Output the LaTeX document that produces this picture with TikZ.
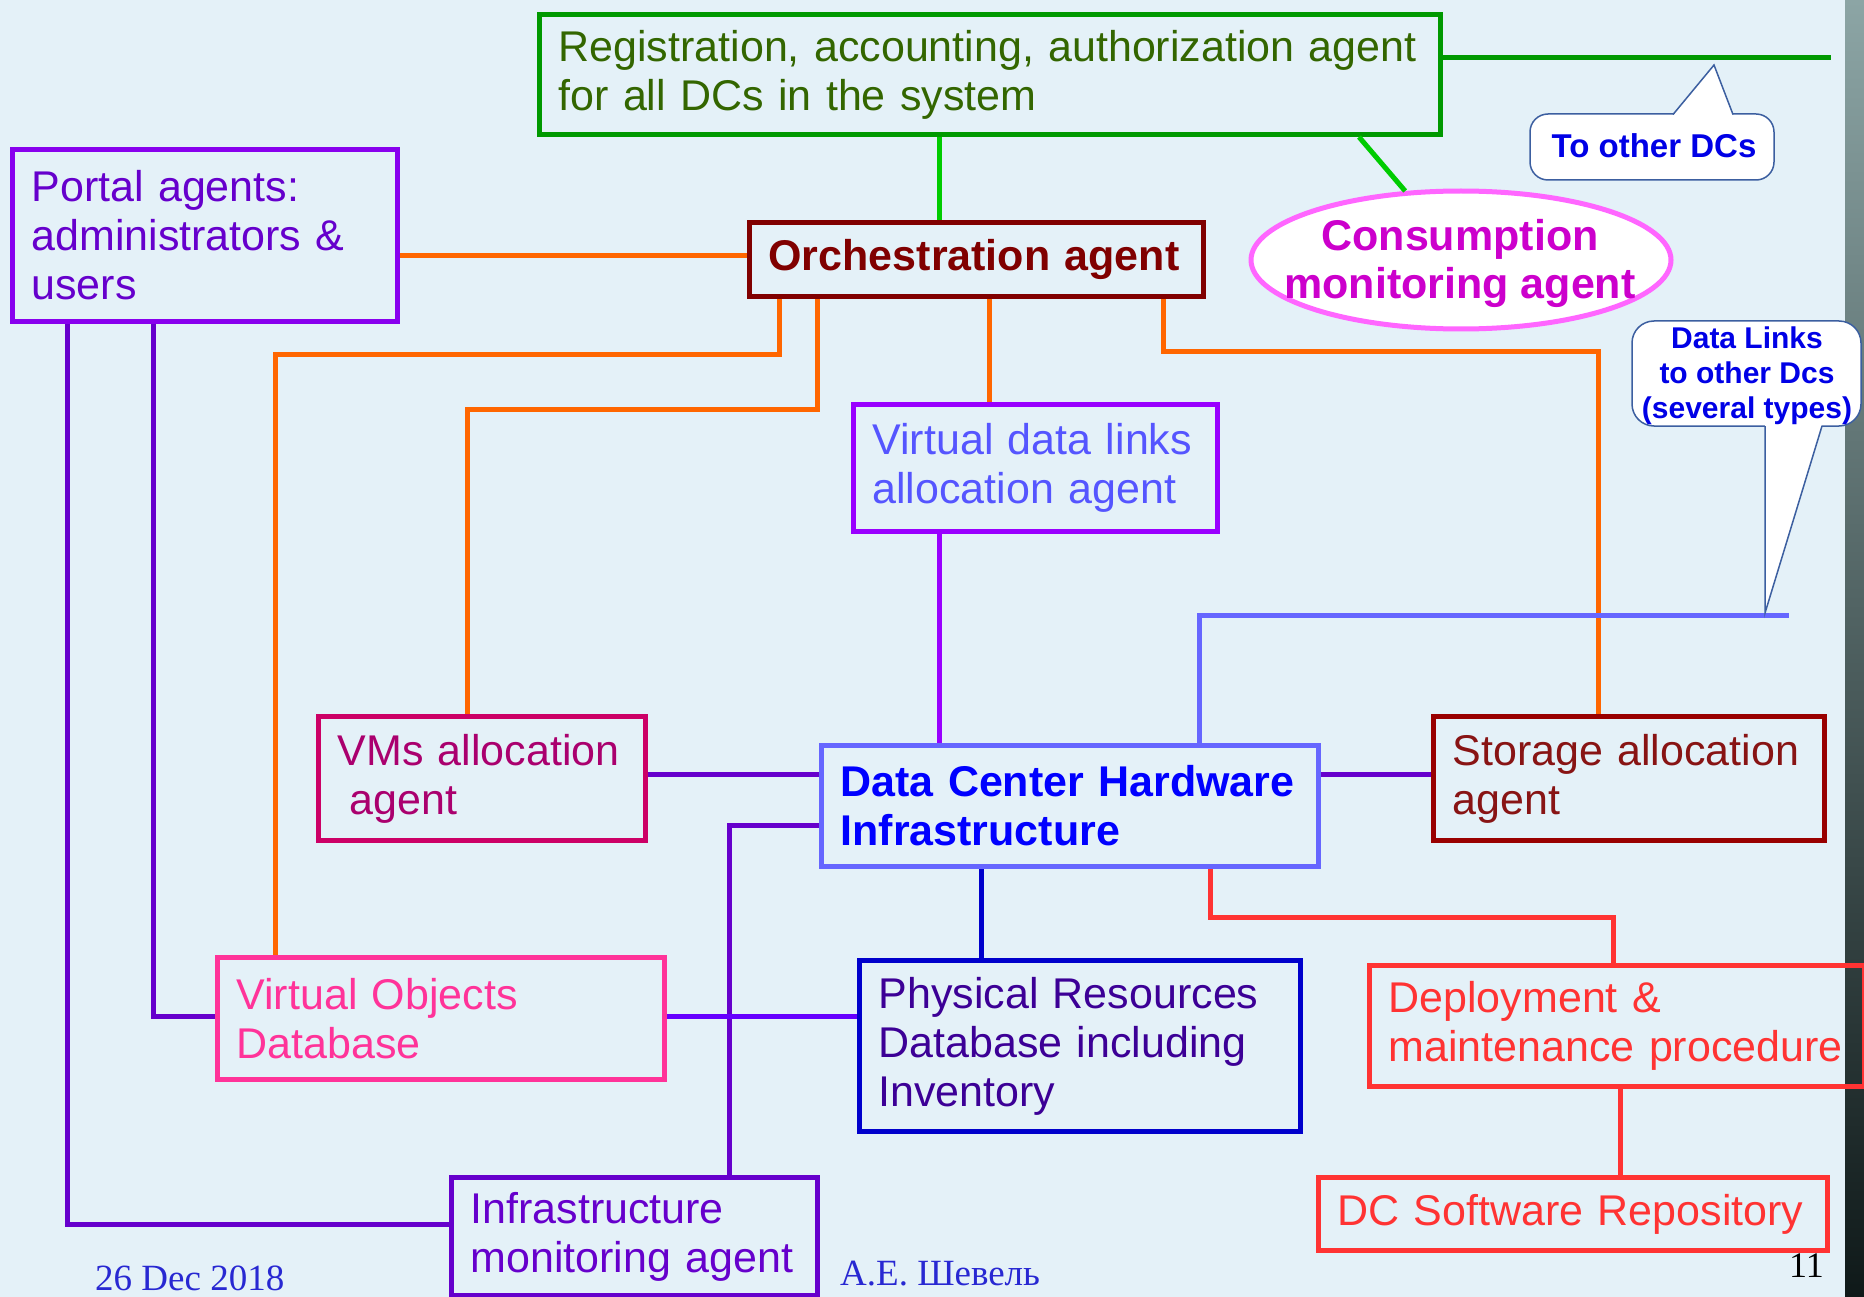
\documentclass[tikz,border=0pt]{standalone}
\usepackage{fontspec}
\setmainfont{Liberation Sans}
\newfontfamily\footerfont{Liberation Serif}
\usetikzlibrary{shapes.geometric}

\definecolor{bgblue}{RGB}{228,241,248}
\definecolor{regline}{RGB}{0,153,0}
\definecolor{regtext}{RGB}{51,102,0}
\definecolor{greenlink}{RGB}{0,204,0}
\definecolor{orchred}{RGB}{128,0,0}
\definecolor{orangelink}{RGB}{255,102,0}
\definecolor{portalline}{RGB}{136,0,238}
\definecolor{portaltext}{RGB}{102,0,204}
\definecolor{violetlink}{RGB}{102,0,204}
\definecolor{violetbright}{RGB}{102,0,255}
\definecolor{vdlline}{RGB}{153,0,255}
\definecolor{vdltext}{RGB}{85,85,255}
\definecolor{hwline}{RGB}{102,102,255}
\definecolor{hwtext}{RGB}{0,0,255}
\definecolor{vmline}{RGB}{204,0,102}
\definecolor{vmtext}{RGB}{170,0,110}
\definecolor{storline}{RGB}{153,0,0}
\definecolor{stortext}{RGB}{136,20,20}
\definecolor{vodbcol}{RGB}{255,51,153}
\definecolor{physline}{RGB}{0,0,204}
\definecolor{phystext}{RGB}{60,0,150}
\definecolor{deploycol}{RGB}{255,51,51}
\definecolor{consline}{RGB}{255,102,255}
\definecolor{constext}{RGB}{204,0,204}
\definecolor{bubbleline}{RGB}{60,95,160}
\definecolor{bubbletext}{RGB}{0,0,230}
\definecolor{footblue}{RGB}{40,40,210}
\definecolor{edgetop}{RGB}{140,165,165}
\definecolor{edgemid}{RGB}{70,100,100}
\definecolor{edgebot}{RGB}{15,25,25}

\begin{document}
\begin{tikzpicture}[x=1pt,y=-1pt,
  box/.style={draw, line width=5pt, anchor=north west, inner xsep=19pt,
    inner ysep=2pt, align=left, font=\fontsize{43}{49}\selectfont},
  boldbox/.style={box, font=\bfseries\fontsize{43}{49}\selectfont},
  conn/.style={line width=5pt},
  bubble/.style={draw=bubbleline, line width=1.5pt, fill=white},
  bubbletxt/.style={text=bubbletext, inner sep=0pt, align=center},
  foot/.style={inner sep=0pt, anchor=base west, text=footblue,
    font=\footerfont\fontsize{37}{44}\selectfont}]

\useasboundingbox (0,0) rectangle (1864,1297);
\fill[bgblue] (0,0) rectangle (1864,1297);
% slide edge strip
\shade[top color=edgetop, middle color=edgemid, bottom color=edgebot]
  (1845,0) rectangle (1864,1297);

% ---- boxes ----
\node[box, draw=regline, text=regtext, text width=863pt, minimum height=120pt]
  (reg) at (537,12)
  {\mbox{Registration, accounting, authorization agent}\\for all DCs in the system};
\node[boldbox, draw=orchred, text=orchred, text width=416pt, minimum height=74pt]
  (orch) at (747,220) {\mbox{Orchestration agent}};
\node[box, draw=portalline, text=portaltext, text width=347pt, minimum height=172pt]
  (portal) at (10,147) {Portal agents:\\administrators \&\\users};
\node[box, draw=vdlline, text=vdltext, text width=326pt, minimum height=127pt]
  (vdl) at (851,402) {\mbox{Virtual data links}\\allocation agent};
\node[box, draw=vmline, text=vmtext, text width=289pt, minimum height=124pt]
  (vms) at (316,714) {\mbox{VMs allocation}\\\hspace*{0.28em}agent};
\node[boldbox, draw=hwline, text=hwtext, text width=459pt, minimum height=121pt]
  (dchi) at (819,743) {\mbox{Data Center Hardware}\\Infrastructure};
\node[box, draw=storline, text=stortext, text width=353pt, minimum height=124pt]
  (storage) at (1431,714) {\mbox{Storage allocation}\\agent};
\node[box, draw=vodbcol, text=vodbcol, text width=409pt, minimum height=122pt]
  (vodb) at (215,955) {Virtual Objects\\Database};
\node[box, draw=physline, text=phystext, text width=403pt, minimum height=171pt]
  (phys) at (857,958) {\mbox{Physical Resources}\\\mbox{Database including}\\Inventory};
\node[box, draw=deploycol, text=deploycol, text width=457pt, minimum height=121pt]
  (deploy) at (1367,963) {Deployment \&\\\mbox{maintenance procedure}};
\node[box, draw=deploycol, text=deploycol, text width=471pt, minimum height=73pt]
  (dcsw) at (1316,1175) {\mbox{DC Software Repository}};
\node[box, draw=violetlink, text=violetlink, text width=328pt, minimum height=118pt]
  (infra) at (449,1175) {Infrastructure\\\mbox{monitoring agent}};

% ---- consumption monitoring ellipse ----
\node[ellipse, draw=consline, fill=white, line width=5pt, minimum width=420pt,
  minimum height=138pt, inner sep=0pt] (cons) at (1461,260) {};
\node[text=constext, inner sep=0pt, align=center,
  font=\bfseries\fontsize{43}{48}\selectfont] (consT) at (1460,263)
  {Consumption\\monitoring agent};

% ---- free ends ----
\coordinate (farDC) at (1831,58);
\coordinate (linkEnd) at (1789,615);

% ---- connectors ----
\draw[conn, greenlink] (reg.south -| 939,0) -- (orch.north -| 939,0);
\draw[conn, greenlink] (reg.south -| 1359,0) -- (cons.129);
\draw[conn, regline] (reg.north east |- 0,58) -- (farDC);

\draw[conn, orangelink] (portal.east |- 0,256) -- (orch.west |- 0,256);
\draw[conn, orangelink] (orch.south -| 779,0) -- (779,355) -- (275,355) -- (vodb.north -| 275,0);
\draw[conn, orangelink] (orch.south -| 817,0) -- (817,409) -- (467,409) -- (vms.north -| 467,0);
\draw[conn, orangelink] (orch.south -| 989,0) -- (vdl.north -| 989,0);
\draw[conn, orangelink] (orch.south -| 1163,0) -- (1163,352) -- (1598,352) -- (storage.north -| 1598,0);

\draw[conn, vdlline] (vdl.south -| 939,0) -- (dchi.north -| 939,0);
\draw[conn, violetlink] (vms.east |- 0,774) -- (dchi.west |- 0,774);
\draw[conn, violetlink] (dchi.east |- 0,774) -- (storage.west |- 0,774);
\draw[conn, violetlink] (dchi.west |- 0,825) -- (729,825) -- (infra.north -| 729,0);
\draw[conn, violetbright] (vodb.east |- 0,1016) -- (phys.west |- 0,1016);
\draw[conn, violetlink] (portal.south -| 153,0) -- (153,1016) -- (vodb.west |- 0,1016);
\draw[conn, violetlink] (portal.south -| 67,0) -- (67,1224) -- (infra.west |- 0,1224);

\draw[conn, physline] (dchi.south -| 981,0) -- (phys.north -| 981,0);
\draw[conn, hwline] (dchi.north -| 1199,0) -- (1199,615) -- (linkEnd);

\draw[conn, deploycol] (dchi.south -| 1210,0) -- (1210,917) -- (1613,917) -- (deploy.north -| 1613,0);
\draw[conn, deploycol] (deploy.south -| 1620,0) -- (dcsw.north -| 1620,0);

% ---- callout: to other DCs ----
\draw[bubble, rounded corners=18pt] (1530,114) rectangle (1774,180);
\fill[white] (1673,116) -- (1714,65) -- (1733,116) -- cycle;
\draw[bubbleline, line width=1.5pt] (1673,114.5) -- (1714,65) -- (1733,114.5);
\node[bubbletxt, font=\bfseries\fontsize{33}{38}\selectfont] (toDC) at (1654,146)
  {To other DCs};

% ---- callout: data links ----
\draw[bubble, rounded corners=22pt] (1632,321) rectangle (1861,426);
\fill[white] (1765,424) -- (1822,424) -- (1765,613) -- cycle;
\draw[bubbleline, line width=1.5pt] (1765,426) -- (1765,613) -- (1822,426);
\node[bubbletxt, font=\bfseries\fontsize{30}{35}\selectfont] (dlinks) at (1747,376)
  {Data Links\\to other Dcs\\(several types)};

% ---- footer ----
\node[foot] (date) at (95,1290) {26 Dec 2018};
\node[foot] (author) at (840,1285) {А.Е. Шевель};
\node[inner sep=0pt, anchor=base east, font=\footerfont\fontsize{36}{42}\selectfont]
  (page) at (1824,1277) {11};
\end{tikzpicture}
\end{document}
